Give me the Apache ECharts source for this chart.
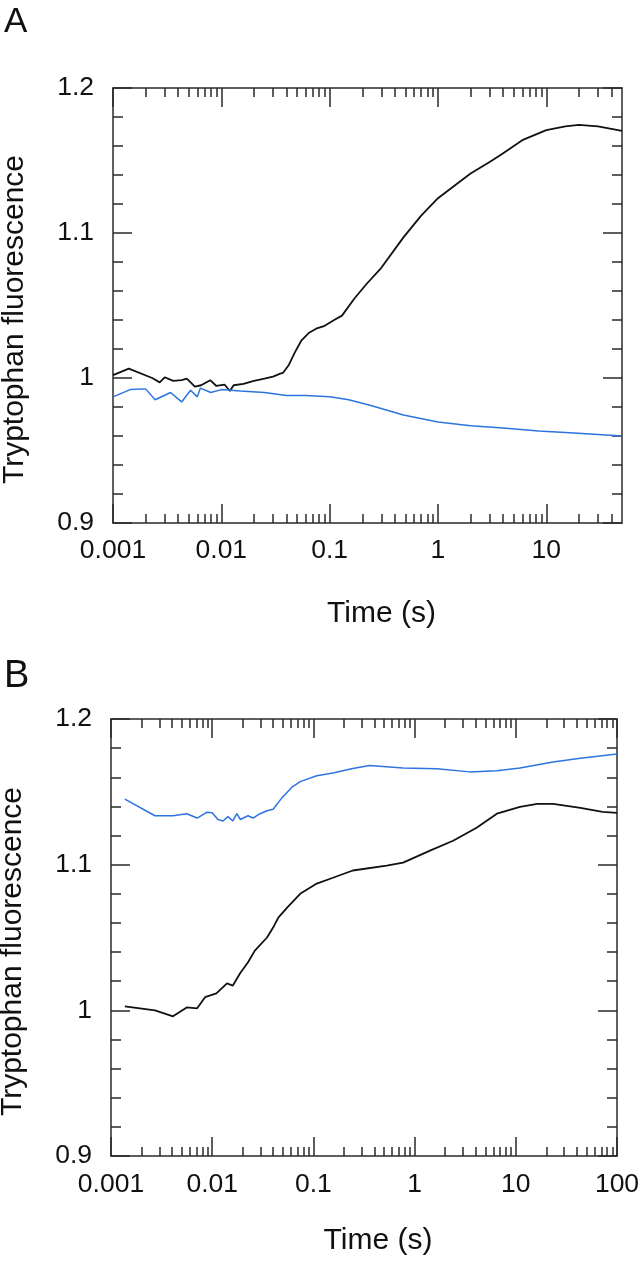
<!DOCTYPE html>
<html><head><meta charset="utf-8">
<script src="https://cdn.jsdelivr.net/npm/echarts@6/dist/echarts.min.js"></script>
<style>html,body{margin:0;padding:0;background:#fff}#c{width:642px;height:1269px}</style>
</head><body><div id="c"></div>
<script>
// ---- Panel A data ----
const timeA_black = [0.001,0.0014,0.0023,0.0027,0.003,0.0036,0.0043,0.0048,0.0057,0.0065,0.0079,0.009,0.0107,0.012,0.013,0.016,0.02,0.025,0.03,0.035,0.037,0.042,0.048,0.055,0.064,0.075,0.09,0.11,0.13,0.17,0.22,0.3,0.48,0.7,1.0,1.5,2.0,3.0,4.0,6.0,10,15,20,30,50];
const fluoA_black = [1.002,1.0065,1.0,0.997,1.0005,0.998,0.9985,0.9995,0.994,0.995,0.9985,0.9945,0.9955,0.991,0.995,0.996,0.998,0.9995,1.001,1.003,1.0035,1.009,1.018,1.026,1.031,1.034,1.036,1.040,1.043,1.055,1.065,1.076,1.097,1.112,1.124,1.134,1.141,1.149,1.155,1.164,1.171,1.1735,1.1745,1.1735,1.1705];
const timeA_blue = [0.001,0.00144,0.002,0.00245,0.0034,0.0043,0.0052,0.006,0.0064,0.008,0.01,0.015,0.025,0.04,0.06,0.1,0.15,0.24,0.48,1.0,2.0,4.0,8.5,18,50];
const fluoA_blue = [0.987,0.992,0.9925,0.985,0.990,0.9835,0.9915,0.987,0.993,0.990,0.992,0.991,0.990,0.988,0.988,0.987,0.985,0.981,0.9745,0.9697,0.967,0.9655,0.9635,0.962,0.960];
// ---- Panel B data ----
const timeB_blue = [0.00137,0.00272,0.0041,0.0056,0.0071,0.0089,0.01,0.0114,0.0128,0.0143,0.016,0.0175,0.019,0.0226,0.0253,0.0297,0.0348,0.04,0.049,0.061,0.074,0.108,0.156,0.245,0.36,0.77,1.66,3.5,6.5,11,23.3,43.5,100];
const fluoB_blue = [1.145,1.1336,1.1336,1.135,1.132,1.136,1.1356,1.131,1.130,1.133,1.130,1.135,1.131,1.1336,1.132,1.135,1.137,1.138,1.146,1.153,1.157,1.161,1.163,1.166,1.168,1.1664,1.1658,1.1637,1.1644,1.1664,1.1705,1.173,1.176];
const timeB_black = [0.00137,0.00272,0.0041,0.0056,0.0071,0.0085,0.011,0.014,0.016,0.0188,0.0226,0.0264,0.0348,0.04,0.045,0.055,0.074,0.108,0.156,0.245,0.53,0.77,1.42,2.4,4.1,6.5,11,16.3,23.3,43.5,72,100];
const fluoB_black = [1.0027,1.0,0.9959,1.002,1.0014,1.009,1.0116,1.0185,1.017,1.0253,1.033,1.041,1.050,1.0568,1.0637,1.0705,1.080,1.087,1.091,1.096,1.0993,1.1014,1.1096,1.1164,1.1253,1.135,1.1397,1.1418,1.1418,1.139,1.1363,1.1356];
// ---- Axis ticks / labels ----
const xMajorA = [0.001,0.01,0.1,1,10];
const xLabelsA = ['0.001','0.01','0.1','1','10'];
const xMajorB = [0.001,0.01,0.1,1,10,100];
const xLabelsB = ['0.001','0.01','0.1','1','10','100'];
const xMinorMult = [2,3,4,5,6,7,8,9];
const yTickLabels = ['0.9','1','1.1','1.2'];

function minorTicks(maxV) {
  const out = [];
  [0.001,0.01,0.1,1,10].forEach(d => xMinorMult.forEach(m => {
    const v = +(d*m).toPrecision(3);
    if (v < maxV) out.push(v);
  }));
  return out;
}
const pairs = (t, v) => t.map((x, i) => [x, v[i]]);

const FONT = "'Liberation Sans', Arial, sans-serif";
const AX = '#2a2a2a';
const TXT = '#111';
const lineStyle = {color: AX, width: 1.5};

function xAxes(gi, max, major, labels, nameGap, labelMargin) {
  const minor = minorTicks(max);
  const fmt = v => { const i = major.findIndex(m => Math.abs(Math.log10(m) - Math.log10(v)) < 1e-6); return i >= 0 ? labels[i] : ''; };
  const base = {gridIndex: gi, type: 'log', min: 0.001, max: max, splitLine: {show: false}};
  return [
    Object.assign({}, base, {position: 'bottom',
      axisLine: {show: true, onZero: false, lineStyle},
      axisTick: {show: true, inside: true, length: 19, customValues: major, lineStyle},
      axisLabel: {show: true, customValues: major, formatter: fmt, margin: labelMargin, fontSize: 26.5, color: TXT, fontFamily: FONT},
      name: 'Time (s)', nameLocation: 'middle', nameGap: nameGap,
      nameTextStyle: {fontSize: 30, color: TXT, fontFamily: FONT, padding: [0, 0, 0, 28]}}),
    Object.assign({}, base, {position: 'bottom',
      axisLine: {show: false, onZero: false},
      axisTick: {show: true, inside: true, length: 9, customValues: minor, lineStyle},
      axisLabel: {show: false}}),
    Object.assign({}, base, {position: 'top',
      axisLine: {show: true, onZero: false, lineStyle},
      axisTick: {show: true, inside: true, length: 19, customValues: major, lineStyle},
      axisLabel: {show: false}}),
    Object.assign({}, base, {position: 'top',
      axisLine: {show: false, onZero: false},
      axisTick: {show: true, inside: true, length: 9, customValues: minor, lineStyle},
      axisLabel: {show: false}})
  ];
}
function yAxes(gi) {
  const base = {gridIndex: gi, type: 'value', min: 0.9, max: 1.2, interval: 0.1, splitLine: {show: false},
    minorTick: {show: true, splitNumber: 5, length: 10, lineStyle}, minorSplitLine: {show: false}};
  return [
    Object.assign({}, base, {position: 'left',
      axisLine: {show: true, onZero: false, lineStyle},
      axisTick: {show: true, inside: true, length: 19, lineStyle},
      axisLabel: {show: true, margin: 19, fontSize: 26.5, color: TXT, fontFamily: FONT,
        formatter: v => yTickLabels[Math.round((v - 0.9) * 10)]},
      name: 'Tryptophan fluorescence', nameLocation: 'middle', nameGap: 83,
      nameTextStyle: {fontSize: 30, color: TXT, fontFamily: FONT, padding: [0, 28, 0, 0]}}),
    Object.assign({}, base, {position: 'right',
      axisLine: {show: true, onZero: false, lineStyle},
      axisTick: {show: true, inside: true, length: 19, lineStyle},
      axisLabel: {show: false}})
  ];
}

const BLACK = '#111111', BLUE = '#2d74de';
const chart = echarts.init(document.getElementById('c'), null, {renderer: 'canvas'});
chart.setOption({
  animation: false,
  backgroundColor: '#fff',
  grid: [
    {left: 113, top: 88, width: 509, height: 435, containLabel: false, outerBoundsMode: 'none'},
    {left: 111, top: 719, width: 506, height: 437, containLabel: false, outerBoundsMode: 'none'}
  ],
  graphic: [
    {type: 'text', left: 4, top: 5, style: {text: 'A', fontSize: 35, fill: TXT, fontFamily: FONT}},
    {type: 'text', left: 4, top: 658, style: {text: 'B', fontSize: 38, fill: TXT, fontFamily: FONT}}
  ],
  xAxis: [].concat(xAxes(0, 50, xMajorA, xLabelsA, 76, 14), xAxes(1, 100, xMajorB, xLabelsB, 70, 15)),
  yAxis: [].concat(yAxes(0), yAxes(1)),
  series: [
    {type: 'line', xAxisIndex: 0, yAxisIndex: 0, data: pairs(timeA_black, fluoA_black), showSymbol: false, symbol: 'none', lineStyle: {color: BLACK, width: 1.8}, itemStyle: {color: BLACK}},
    {type: 'line', xAxisIndex: 0, yAxisIndex: 0, data: pairs(timeA_blue, fluoA_blue), showSymbol: false, symbol: 'none', lineStyle: {color: BLUE, width: 1.5}, itemStyle: {color: BLUE}},
    {type: 'line', xAxisIndex: 4, yAxisIndex: 2, data: pairs(timeB_blue, fluoB_blue), showSymbol: false, symbol: 'none', lineStyle: {color: BLUE, width: 1.5}, itemStyle: {color: BLUE}},
    {type: 'line', xAxisIndex: 4, yAxisIndex: 2, data: pairs(timeB_black, fluoB_black), showSymbol: false, symbol: 'none', lineStyle: {color: BLACK, width: 1.8}, itemStyle: {color: BLACK}}
  ]
});
</script>
</body></html>
